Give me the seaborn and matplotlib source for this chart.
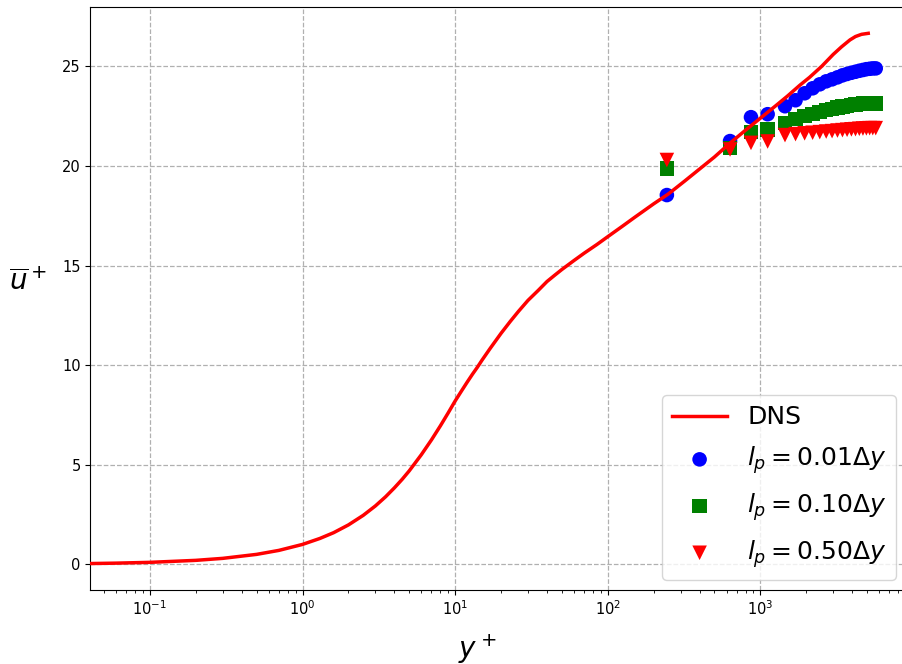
import matplotlib
matplotlib.use("Agg")
import matplotlib.pyplot as plt
import seaborn as sns
import pandas as pd

# DNS mean velocity profile (wall units)
dns_yplus = [0.0407, 0.06, 0.1, 0.2, 0.3, 0.5, 0.7, 1.0, 1.3, 1.6, 2.0, 2.5, 3.0,
             3.5, 4.0, 4.5, 5.0, 6.0, 7.0, 8.0, 9.0, 10.0, 11.0, 12.0, 13.0, 14.0,
             15.0, 17.0, 20.0, 23.0, 26.0, 30.0, 35.0, 40.0, 45.0, 50.0, 60.0, 70.0,
             85.0, 100.0, 125.0, 150.0, 200.0, 250.0, 320.0, 400.0, 500.0, 633.0,
             800.0, 1000.0, 1250.0, 1500.0, 1811.0, 2100.0, 2520.0, 3000.0, 3400.0,
             3865.0, 4200.0, 4600.0, 5090.0]
dns_uplus = [0.04, 0.06, 0.1, 0.2, 0.3, 0.5, 0.7, 1.0, 1.3, 1.59, 1.98, 2.46, 2.93,
             3.39, 3.84, 4.27, 4.69, 5.5, 6.25, 6.95, 7.6, 8.2, 8.7, 9.15, 9.55, 9.9,
             10.25, 10.85, 11.6, 12.2, 12.7, 13.25, 13.75, 14.2, 14.52, 14.8, 15.25, 15.62,
             16.06, 16.45, 16.98, 17.42, 18.1, 18.6, 19.25, 19.85, 20.45, 21.15,
             21.8, 22.4, 23.0, 23.5, 24.05, 24.45, 25.0, 25.6, 25.98,
             26.33, 26.5, 26.61, 26.66]

# wall-model sample locations
yplus_pts = [244, 633, 868, 1116, 1450, 1700, 1950, 2200, 2450, 2700, 2950, 3200,
             3450, 3700, 3950, 4200, 4450, 4700, 4950, 5200, 5450, 5700]

u_lp001 = [18.54, 21.25, 22.45, 22.6, 23.0, 23.3, 23.65, 23.9, 24.1, 24.25, 24.35,
           24.45, 24.55, 24.62, 24.68, 24.73, 24.78, 24.82, 24.86, 24.88, 24.9, 24.9]
u_lp010 = [19.88, 20.9, 21.71, 21.83, 22.15, 22.35, 22.5, 22.62, 22.72, 22.8, 22.87,
           22.93, 22.98, 23.02, 23.06, 23.09, 23.11, 23.13, 23.15, 23.16, 23.16, 23.15]
u_lp050 = [20.3, 20.83, 21.16, 21.23, 21.55, 21.6, 21.64, 21.67, 21.7, 21.73, 21.75,
           21.78, 21.8, 21.82, 21.84, 21.85, 21.87, 21.88, 21.89, 21.9, 21.9, 21.9]

series_labels = [r"$l_p = 0.01\Delta y$", r"$l_p = 0.10\Delta y$", r"$l_p = 0.50\Delta y$"]
series_colors = ["blue", "green", "red"]
series_markers = ["o", "s", "v"]

dns = pd.DataFrame({"yplus": dns_yplus, "uplus": dns_uplus})

fig = plt.figure(figsize=(9.03, 6.64), dpi=100)
ax = fig.add_axes([0.1, 0.1114, 0.9043, 0.878])

sns.lineplot(data=dns, x="yplus", y="uplus", ax=ax, color="red", linewidth=2.5,
             label="DNS", sort=False, zorder=3)

for vals, lab, col, mk in zip([u_lp001, u_lp010, u_lp050], series_labels,
                              series_colors, series_markers):
    df = pd.DataFrame({"yplus": yplus_pts, "uplus": vals})
    sns.scatterplot(data=df, x="yplus", y="uplus", ax=ax, color=col, marker=mk,
                    s=110, linewidth=0, edgecolor="none", label=lab, zorder=2)

ax.set_xscale("log")
ax.set_xlim(0.0407, 9120)
ax.set_ylim(-1.29, 27.98)
ax.set_yticks([0, 5, 10, 15, 20, 25])
ax.grid(True, which="major", linestyle="--", color="#b0b0b0", linewidth=0.9)
ax.tick_params(labelsize=10.5)

ax.set_xlabel(r"$y^+$", fontsize=20, va="top")
ax.xaxis.set_label_coords(0.4735, -0.072)
ax.set_ylabel(r"$\overline{u}^+$", fontsize=20, rotation=0, va="center", ha="center")
ax.yaxis.set_label_coords(-0.0763, 0.528)

ax.legend(loc="lower right", fontsize=18, labelspacing=0.6, handlelength=2.2,
          borderaxespad=0.42)

fig.savefig("out.png", dpi=100)
